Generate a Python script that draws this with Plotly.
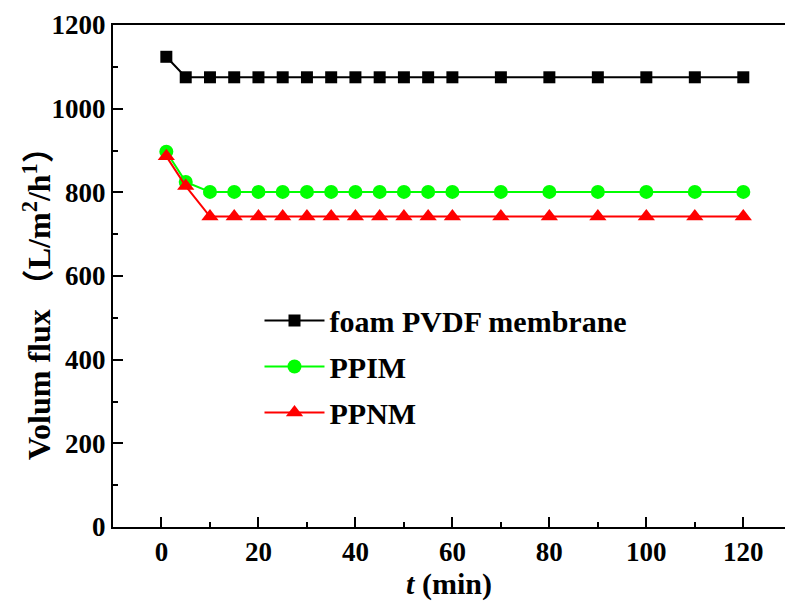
import plotly.graph_objects as go

t_vals = [1, 5, 10, 15, 20, 25, 30, 35, 40, 45, 50, 55, 60, 70, 80, 90, 100, 110, 120]
foam_pvdf = [1124, 1075, 1075, 1075, 1075, 1075, 1075, 1075, 1075, 1075, 1075, 1075, 1075, 1075, 1075, 1075, 1075, 1075, 1075]
ppim = [897, 825, 801, 801, 801, 801, 801, 801, 801, 801, 801, 801, 801, 801, 801, 801, 801, 801, 801]
ppnm = [886, 815, 742, 742, 742, 742, 742, 742, 742, 742, 742, 742, 742, 742, 742, 742, 742, 742, 742]

series_names = ["foam PVDF membrane", "PPIM", "PPNM"]
x_tickvals = [0, 20, 40, 60, 80, 100, 120]
y_tickvals = [0, 200, 400, 600, 800, 1000, 1200]
y_title = "Volum flux （L/m<sup>2</sup>/h<sup>1</sup>）"
x_title = "<i>t</i> (min)"

FONT = "Liberation Serif"
FONT_Y = "'Liberation Serif', 'Noto Sans CJK SC'"

fig = go.Figure()
styles = [
    (foam_pvdf, "black", "square", 12),
    (ppim, "#00ff00", "circle", 14),
    (ppnm, "#ff0000", "triangle-up", 15),
]
for name, (vals, color, sym, sz) in zip(series_names, styles):
    fig.add_trace(go.Scatter(
        x=t_vals, y=vals, name=name, mode="lines+markers",
        line=dict(color=color, width=2),
        marker=dict(symbol=sym, size=sz, color=color),
        legendgroup=name,
    ))

fig.update_layout(
    width=785, height=605,
    margin=dict(l=113, r=0, t=25, b=78),
    paper_bgcolor="white", plot_bgcolor="white",
    font=dict(family=FONT, color="black", size=26, weight="bold"),
    showlegend=True,
    legend=dict(
        x=0.218, y=0.463, xanchor="left", yanchor="top",
        font=dict(family=FONT, size=30, color="black", weight="bold"),
        bgcolor="rgba(0,0,0,0)", traceorder="grouped", tracegroupgap=4,
        itemwidth=60,
    ),
    annotations=[dict(
        text=y_title, textangle=-90, xref="paper", yref="paper",
        x=0, y=0.46, xanchor="center", yanchor="middle", xshift=-76,
        showarrow=False,
        font=dict(family=FONT_Y, size=32, color="black", weight="bold"),
    )],
)

fig.update_xaxes(
    range=[-10, 128.6], tickvals=x_tickvals,
    showline=True, linecolor="black", linewidth=2, mirror=True,
    ticks="inside", ticklen=10, tickwidth=2, tickcolor="black",
    minor=dict(ticks="inside", ticklen=5, tickwidth=2, tickcolor="black", dtick=10, tick0=0),
    showgrid=False, zeroline=False,
    tickfont=dict(family=FONT, size=27, weight="bold"),
    title=dict(text=x_title, font=dict(family=FONT, size=30, weight="bold"), standoff=6),
)
fig.update_yaxes(
    range=[0, 1200], tickvals=y_tickvals,
    showline=True, linecolor="black", linewidth=2, mirror=False,
    ticks="inside", ticklen=10, tickwidth=2, tickcolor="black",
    minor=dict(ticks="inside", ticklen=5, tickwidth=2, tickcolor="black", dtick=100, tick0=0),
    showgrid=False, zeroline=False,
    tickfont=dict(family=FONT, size=27, weight="bold"),
)

fig.write_html("out.html")
